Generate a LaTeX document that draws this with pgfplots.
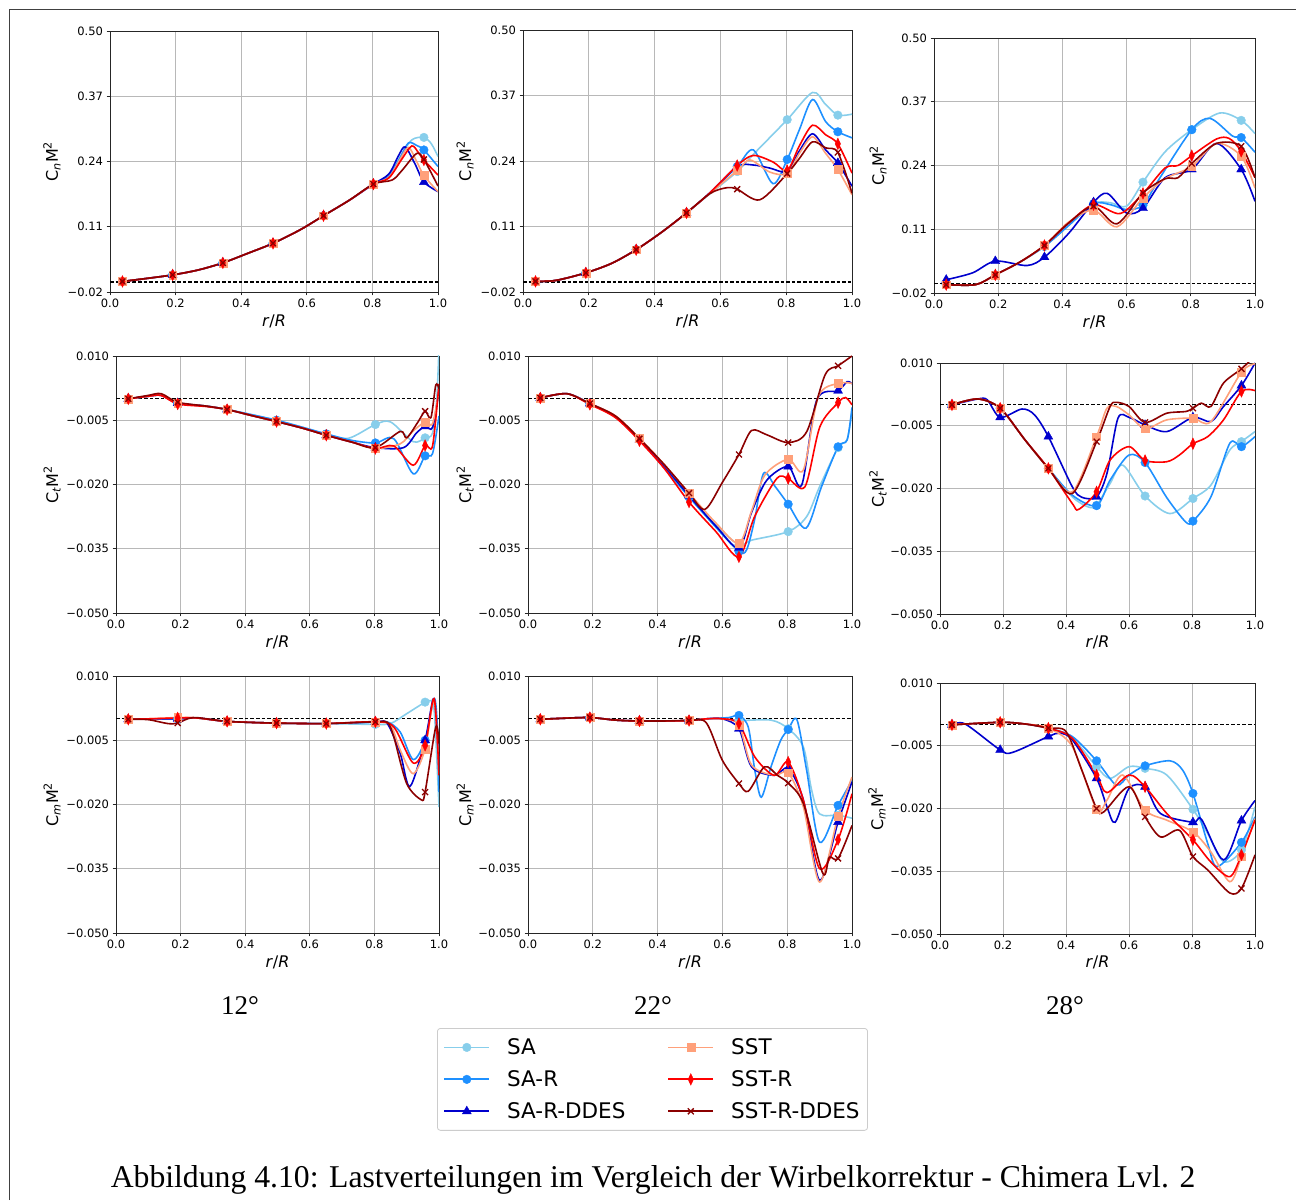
\documentclass[border=0pt]{standalone}
\usepackage{fontspec}
\setmainfont{DejaVu Sans}
\newfontfamily\capfont{Liberation Serif}
\usepackage{pgfplots}
\usepackage{pgfplotstable}
\pgfplotsset{compat=1.18}

\definecolor{cSA}{HTML}{87CEEB}
\definecolor{cSAR}{HTML}{1E90FF}
\definecolor{cSARD}{HTML}{0000CD}
\definecolor{cSST}{HTML}{FFA07A}
\definecolor{cSSTR}{HTML}{FF0000}
\definecolor{cSSTRD}{HTML}{8B0000}

% ---------------------------------------------------------------
% Radial load distributions; column m = 1 marks a measuring station
% ---------------------------------------------------------------
% Cn M^2, 12 deg
\pgfplotstableread{
x y m
0.038 0.001 1
0.10 0.006 0
0.191 0.014 1
0.27 0.024 0
0.344 0.038 1
0.42 0.057 0
0.497 0.077 1
0.58 0.104 0
0.651 0.132 1
0.73 0.163 0
0.803 0.195 1
0.85 0.212 0
0.885 0.250 0
0.92 0.283 0
0.957 0.288 1
0.98 0.275 0
1.0 0.250 0
}\tAsa
\pgfplotstableread{
x y m
0.038 0.001 1
0.10 0.006 0
0.191 0.014 1
0.27 0.024 0
0.344 0.038 1
0.42 0.057 0
0.497 0.077 1
0.58 0.104 0
0.651 0.132 1
0.73 0.163 0
0.803 0.195 1
0.85 0.210 0
0.885 0.248 0
0.91 0.277 0
0.935 0.272 0
0.957 0.263 1
1.0 0.230 0
}\tAsar
\pgfplotstableread{
x y m
0.038 0.001 1
0.10 0.006 0
0.191 0.014 1
0.27 0.024 0
0.344 0.038 1
0.42 0.057 0
0.497 0.077 1
0.58 0.104 0
0.651 0.132 1
0.73 0.163 0
0.803 0.195 1
0.85 0.215 0
0.88 0.252 0
0.90 0.269 0
0.93 0.235 0
0.957 0.199 1
1.0 0.180 0
}\tAsard
\pgfplotstableread{
x y m
0.038 0.001 1
0.10 0.006 0
0.191 0.014 1
0.27 0.024 0
0.344 0.038 1
0.42 0.057 0
0.497 0.077 1
0.58 0.104 0
0.651 0.132 1
0.73 0.163 0
0.803 0.195 1
0.85 0.208 0
0.885 0.245 0
0.91 0.268 0
0.935 0.240 0
0.957 0.212 1
1.0 0.180 0
}\tAsst
\pgfplotstableread{
x y m
0.038 0.001 1
0.10 0.006 0
0.191 0.014 1
0.27 0.024 0
0.344 0.038 1
0.42 0.057 0
0.497 0.077 1
0.58 0.104 0
0.651 0.132 1
0.73 0.163 0
0.803 0.195 1
0.85 0.207 0
0.89 0.245 0
0.92 0.271 0
0.94 0.258 0
0.957 0.243 1
1.0 0.213 0
}\tAsstr
\pgfplotstableread{
x y m
0.038 0.001 1
0.10 0.006 0
0.191 0.014 1
0.27 0.024 0
0.344 0.038 1
0.42 0.057 0
0.497 0.077 1
0.58 0.104 0
0.651 0.132 1
0.73 0.163 0
0.803 0.195 1
0.86 0.203 0
0.89 0.222 0
0.935 0.256 0
0.957 0.244 1
1.0 0.191 0
}\tAsstrd

% Cn M^2, 22 deg
\pgfplotstableread{
x y m
0.038 0.001 1
0.10 0.003 0
0.191 0.018 1
0.27 0.037 0
0.344 0.064 1
0.42 0.098 0
0.497 0.137 1
0.57 0.176 0
0.651 0.219 1
0.70 0.253 0
0.803 0.322 1
0.88 0.376 0
0.92 0.352 0
0.957 0.331 1
1.0 0.333 0
}\tBsa
\pgfplotstableread{
x y m
0.038 0.001 1
0.10 0.003 0
0.191 0.018 1
0.27 0.037 0
0.344 0.064 1
0.42 0.098 0
0.497 0.137 1
0.57 0.178 0
0.651 0.229 1
0.70 0.262 0
0.76 0.195 0
0.803 0.243 1
0.84 0.302 0
0.88 0.362 0
0.92 0.318 0
0.957 0.298 1
1.0 0.286 0
}\tBsar
\pgfplotstableread{
x y m
0.038 0.001 1
0.10 0.003 0
0.191 0.018 1
0.27 0.037 0
0.344 0.064 1
0.42 0.098 0
0.497 0.137 1
0.57 0.178 0
0.651 0.229 1
0.70 0.232 0
0.75 0.226 0
0.803 0.219 1
0.84 0.260 0
0.88 0.294 0
0.92 0.262 0
0.957 0.236 1
1.0 0.190 0
}\tBsard
\pgfplotstableread{
x y m
0.038 0.001 1
0.10 0.003 0
0.191 0.018 1
0.27 0.037 0
0.344 0.064 1
0.42 0.098 0
0.497 0.137 1
0.57 0.177 0
0.651 0.221 1
0.69 0.242 0
0.75 0.218 0
0.803 0.215 1
0.84 0.255 0
0.88 0.288 0
0.92 0.255 0
0.957 0.223 1
1.0 0.173 0
}\tBsst
\pgfplotstableread{
x y m
0.038 0.001 1
0.10 0.003 0
0.191 0.018 1
0.27 0.037 0
0.344 0.064 1
0.42 0.098 0
0.497 0.137 1
0.57 0.178 0
0.651 0.231 1
0.70 0.251 0
0.76 0.238 0
0.803 0.221 1
0.84 0.270 0
0.88 0.311 0
0.92 0.292 0
0.957 0.274 1
1.0 0.216 0
}\tBsstr
\pgfplotstableread{
x y m
0.038 0.001 1
0.10 0.003 0
0.191 0.018 1
0.27 0.037 0
0.344 0.064 1
0.42 0.098 0
0.497 0.137 1
0.57 0.176 0
0.62 0.187 0
0.651 0.184 1
0.72 0.163 0
0.803 0.215 1
0.84 0.245 0
0.88 0.278 0
0.92 0.266 0
0.957 0.257 1
1.0 0.176 0
}\tBsstrd

% Cn M^2, 28 deg
\pgfplotstableread{
x y m
0.038 -0.003 1
0.13 -0.003 0
0.191 0.017 1
0.27 0.044 0
0.344 0.075 1
0.42 0.118 0
0.497 0.162 1
0.55 0.164 0
0.60 0.157 0
0.651 0.206 1
0.72 0.268 0
0.803 0.313 1
0.89 0.347 0
0.957 0.332 1
1.0 0.305 0
}\tCsa
\pgfplotstableread{
x y m
0.038 -0.003 1
0.13 -0.003 0
0.191 0.017 1
0.27 0.044 0
0.344 0.075 1
0.42 0.118 0
0.497 0.162 1
0.55 0.160 0
0.60 0.150 0
0.651 0.159 1
0.70 0.211 0
0.803 0.313 1
0.86 0.336 0
0.93 0.300 0
0.957 0.297 1
1.0 0.267 0
}\tCsar
\pgfplotstableread{
x y m
0.038 0.007 1
0.12 0.021 0
0.191 0.045 1
0.29 0.036 0
0.344 0.053 1
0.42 0.102 0
0.497 0.165 1
0.54 0.183 0
0.60 0.143 0
0.651 0.153 1
0.72 0.215 0
0.803 0.232 1
0.88 0.285 0
0.957 0.232 1
1.0 0.167 0
}\tCsard
\pgfplotstableread{
x y m
0.038 -0.003 1
0.13 -0.003 0
0.191 0.017 1
0.27 0.044 0
0.344 0.077 1
0.42 0.125 0
0.497 0.149 1
0.57 0.115 0
0.651 0.174 1
0.72 0.213 0
0.803 0.238 1
0.88 0.285 0
0.957 0.259 1
1.0 0.194 0
}\tCsst
\pgfplotstableread{
x y m
0.038 -0.003 1
0.13 -0.003 0
0.191 0.017 1
0.27 0.044 0
0.344 0.077 1
0.42 0.123 0
0.497 0.160 1
0.58 0.142 0
0.651 0.183 1
0.72 0.235 0
0.76 0.240 0
0.803 0.260 1
0.88 0.294 0
0.92 0.295 0
0.957 0.269 1
1.0 0.215 0
}\tCsstr
\pgfplotstableread{
x y m
0.038 -0.003 1
0.13 -0.003 0
0.191 0.017 1
0.27 0.044 0
0.344 0.077 1
0.42 0.123 0
0.497 0.157 1
0.57 0.121 0
0.651 0.184 1
0.72 0.213 0
0.76 0.215 0
0.803 0.244 1
0.88 0.285 0
0.957 0.279 1
1.0 0.215 0
}\tCsstrd

% Ct M^2, 12 deg
\pgfplotstableread{
x y m
0.038 0.0000 1
0.10 0.0006 0
0.14 0.0008 0
0.191 -0.0010 1
0.28 -0.0017 0
0.344 -0.0025 1
0.42 -0.0037 0
0.497 -0.0050 1
0.58 -0.0067 0
0.651 -0.0082 1
0.72 -0.0092 0
0.803 -0.0060 1
0.85 -0.0054 0
0.92 -0.0100 0
0.957 -0.0091 1
0.98 -0.0080 0
0.993 0.0000 0
1.0 0.0120 0
}\tDsa
\pgfplotstableread{
x y m
0.038 0.0000 1
0.10 0.0006 0
0.14 0.0008 0
0.191 -0.0010 1
0.28 -0.0017 0
0.344 -0.0025 1
0.42 -0.0037 0
0.497 -0.0050 1
0.58 -0.0067 0
0.651 -0.0082 1
0.73 -0.0097 0
0.803 -0.0103 1
0.86 -0.0093 0
0.92 -0.0175 0
0.957 -0.0133 1
0.98 -0.0128 0
1.0 -0.0040 0
}\tDsar
\pgfplotstableread{
x y m
0.038 0.0000 1
0.10 0.0006 0
0.14 0.0008 0
0.191 -0.0010 1
0.28 -0.0017 0
0.344 -0.0025 1
0.42 -0.0039 0
0.497 -0.0053 1
0.58 -0.0069 0
0.651 -0.0085 1
0.73 -0.0101 0
0.803 -0.0114 1
0.89 -0.0114 0
0.93 -0.0080 0
0.957 -0.0064 1
0.98 -0.0067 0
1.0 0.0020 0
}\tDsard
\pgfplotstableread{
x y m
0.038 0.0000 1
0.10 0.0006 0
0.14 0.0008 0
0.191 -0.0010 1
0.28 -0.0017 0
0.344 -0.0025 1
0.42 -0.0039 0
0.497 -0.0053 1
0.58 -0.0069 0
0.651 -0.0085 1
0.73 -0.0101 0
0.803 -0.0116 1
0.88 -0.0105 0
0.92 -0.0075 0
0.957 -0.0054 1
0.98 -0.0058 0
1.0 0.0020 0
}\tDsst
\pgfplotstableread{
x y m
0.038 0.0000 1
0.10 0.0006 0
0.14 0.0008 0
0.191 -0.0012 1
0.28 -0.0018 0
0.344 -0.0025 1
0.42 -0.0039 0
0.497 -0.0053 1
0.58 -0.0069 0
0.651 -0.0085 1
0.73 -0.0101 0
0.803 -0.0116 1
0.86 -0.0110 0
0.92 -0.0155 0
0.957 -0.0109 1
0.98 -0.0110 0
1.0 0.0035 0
}\tDsstr
\pgfplotstableread{
x y m
0.038 0.0000 1
0.10 0.0008 0
0.14 0.0012 0
0.191 -0.0008 1
0.28 -0.0017 0
0.344 -0.0025 1
0.42 -0.0039 0
0.497 -0.0053 1
0.58 -0.0069 0
0.651 -0.0085 1
0.73 -0.0101 0
0.803 -0.0114 1
0.88 -0.0076 0
0.90 -0.0091 0
0.935 -0.0054 0
0.957 -0.0029 1
0.975 -0.0044 0
0.99 0.0032 0
1.0 0.0024 0
}\tDsstrd

% Ct M^2, 22 deg
\pgfplotstableread{
x y m
0.038 0.0002 1
0.12 0.0012 0
0.191 -0.0011 1
0.27 -0.0042 0
0.344 -0.0095 1
0.42 -0.0160 0
0.497 -0.0229 1
0.58 -0.0295 0
0.651 -0.0341 1
0.69 -0.0330 0
0.803 -0.0310 1
0.86 -0.0275 0
0.90 -0.0205 0
0.957 -0.0114 1
0.985 -0.0095 0
1.0 -0.0028 0
}\tEsa
\pgfplotstableread{
x y m
0.038 0.0002 1
0.12 0.0012 0
0.191 -0.0011 1
0.27 -0.0042 0
0.344 -0.0095 1
0.42 -0.0160 0
0.497 -0.0229 1
0.58 -0.0300 0
0.651 -0.0356 1
0.675 -0.0352 0
0.70 -0.0280 0
0.727 -0.0174 0
0.763 -0.0205 0
0.803 -0.0246 1
0.858 -0.0302 0
0.906 -0.0205 0
0.957 -0.0112 1
0.985 -0.0096 0
1.0 -0.0020 0
}\tEsar
\pgfplotstableread{
x y m
0.038 0.0002 1
0.12 0.0012 0
0.191 -0.0011 1
0.27 -0.0042 0
0.344 -0.0095 1
0.42 -0.0157 0
0.497 -0.0226 1
0.58 -0.0297 0
0.651 -0.0348 1
0.69 -0.0265 0
0.737 -0.0190 0
0.803 -0.0158 1
0.845 -0.0201 0
0.891 -0.0003 0
0.957 0.0019 1
0.985 0.0040 0
1.0 0.0035 0
}\tEsard
\pgfplotstableread{
x y m
0.038 0.0002 1
0.12 0.0012 0
0.191 -0.0011 1
0.27 -0.0040 0
0.344 -0.0092 1
0.42 -0.0153 0
0.497 -0.0220 1
0.58 -0.0290 0
0.651 -0.0337 1
0.69 -0.0262 0
0.731 -0.0178 0
0.803 -0.0141 1
0.85 -0.0166 0
0.896 0.0005 0
0.957 0.0036 1
1.0 0.0036 0
}\tEsst
\pgfplotstableread{
x y m
0.038 0.0002 1
0.12 0.0012 0
0.191 -0.0013 1
0.27 -0.0044 0
0.344 -0.0098 1
0.42 -0.0162 0
0.497 -0.0241 1
0.58 -0.0310 0
0.651 -0.0369 1
0.70 -0.0274 0
0.768 -0.0186 0
0.803 -0.0186 1
0.855 -0.0205 0
0.901 -0.0065 0
0.957 -0.0009 1
0.98 0.0003 0
1.0 -0.0014 0
}\tEsstr
\pgfplotstableread{
x y m
0.038 0.0002 1
0.12 0.0012 0
0.191 -0.0011 1
0.27 -0.0040 0
0.344 -0.0093 1
0.42 -0.0153 0
0.497 -0.0220 1
0.546 -0.0258 0
0.60 -0.0195 0
0.651 -0.0130 1
0.69 -0.0074 0
0.737 -0.0084 0
0.803 -0.0102 1
0.86 -0.0077 0
0.917 0.0056 0
0.957 0.0077 1
1.0 0.0100 0
}\tEsstrd

% Ct M^2, 28 deg
\pgfplotstableread{
x y m
0.038 0.0000 1
0.12 0.0014 0
0.191 -0.0008 1
0.27 -0.0084 0
0.344 -0.0152 1
0.42 -0.0220 0
0.47 -0.0244 0
0.497 -0.0240 1
0.54 -0.0188 0
0.58 -0.0144 0
0.651 -0.0218 1
0.73 -0.0260 0
0.803 -0.0224 1
0.86 -0.0192 0
0.92 -0.0108 0
0.957 -0.0088 1
1.0 -0.0064 0
}\tFsa
\pgfplotstableread{
x y m
0.038 0.0000 1
0.12 0.0014 0
0.191 -0.0008 1
0.27 -0.0084 0
0.344 -0.0152 1
0.42 -0.0216 0
0.497 -0.0241 1
0.54 -0.0180 0
0.60 -0.0120 0
0.651 -0.0138 1
0.72 -0.0222 0
0.78 -0.0280 0
0.803 -0.0278 1
0.86 -0.0220 0
0.92 -0.0092 0
0.957 -0.0100 1
1.0 -0.0076 0
}\tFsar
\pgfplotstableread{
x y m
0.038 0.0000 1
0.12 0.0014 0
0.15 0.0012 0
0.191 -0.0030 1
0.26 -0.0010 0
0.30 -0.0024 0
0.344 -0.0076 1
0.42 -0.0196 0
0.45 -0.0221 0
0.497 -0.0220 1
0.53 -0.0164 0
0.565 -0.0032 0
0.60 -0.0030 0
0.651 -0.0048 1
0.72 -0.0064 0
0.803 -0.0030 1
0.86 -0.0040 0
0.90 -0.0004 0
0.957 0.0046 1
1.0 0.0100 0
}\tFsard
\pgfplotstableread{
x y m
0.038 0.0000 1
0.12 0.0014 0
0.191 -0.0008 1
0.27 -0.0084 0
0.344 -0.0152 1
0.42 -0.0208 0
0.497 -0.0076 1
0.53 -0.0008 0
0.56 -0.0004 0
0.60 -0.0024 0
0.651 -0.0057 1
0.72 -0.0036 0
0.803 -0.0032 1
0.86 -0.0040 0
0.957 0.0078 1
1.0 0.0098 0
}\tFsst
\pgfplotstableread{
x y m
0.038 0.0000 1
0.12 0.0014 0
0.191 -0.0008 1
0.27 -0.0084 0
0.344 -0.0152 1
0.42 -0.0236 0
0.44 -0.0250 0
0.497 -0.0208 1
0.54 -0.0132 0
0.60 -0.0100 0
0.651 -0.0133 1
0.72 -0.0136 0
0.76 -0.0120 0
0.803 -0.0093 1
0.85 -0.0076 0
0.90 -0.0036 0
0.957 0.0032 1
1.0 0.0034 0
}\tFsstr
\pgfplotstableread{
x y m
0.038 0.0000 1
0.12 0.0014 0
0.191 -0.0008 1
0.27 -0.0084 0
0.344 -0.0152 1
0.42 -0.0212 0
0.497 -0.0088 1
0.54 -0.0004 0
0.56 0.0006 0
0.60 -0.0004 0
0.651 -0.0042 1
0.72 -0.0020 0
0.78 -0.0016 0
0.803 -0.0008 1
0.83 0.0004 0
0.86 -0.0004 0
0.90 0.0052 0
0.957 0.0086 1
0.99 0.0110 0
}\tFsstrd

% Cm M^2, 12 deg
\pgfplotstableread{
x y m
0.038 -0.0001 1
0.10 0.0000 0
0.191 0.0000 1
0.25 0.0002 0
0.344 -0.0006 1
0.497 -0.0010 1
0.651 -0.0011 1
0.803 -0.0013 1
0.85 -0.0011 0
0.90 0.0012 0
0.957 0.0039 1
0.97 0.0042 0
0.985 0.0020 0
1.0 -0.0206 0
}\tGsa
\pgfplotstableread{
x y m
0.038 -0.0001 1
0.10 0.0000 0
0.191 0.0000 1
0.25 0.0002 0
0.344 -0.0006 1
0.497 -0.0010 1
0.651 -0.0011 1
0.803 -0.0008 1
0.84 -0.0007 0
0.88 -0.0031 0
0.92 -0.0095 0
0.957 -0.0050 1
0.985 0.0047 0
0.995 -0.0020 0
1.0 -0.0171 0
}\tGsar
\pgfplotstableread{
x y m
0.038 -0.0001 1
0.10 0.0000 0
0.191 0.0000 1
0.25 0.0002 0
0.344 -0.0006 1
0.497 -0.0010 1
0.651 -0.0011 1
0.803 -0.0007 1
0.84 -0.0011 0
0.88 -0.0081 0
0.91 -0.0158 0
0.957 -0.0050 1
0.985 0.0047 0
1.0 -0.0120 0
}\tGsard
\pgfplotstableread{
x y m
0.038 -0.0001 1
0.10 0.0000 0
0.191 0.0003 1
0.25 0.0002 0
0.344 -0.0006 1
0.497 -0.0010 1
0.651 -0.0011 1
0.803 -0.0007 1
0.85 -0.0015 0
0.88 -0.0073 0
0.92 -0.0128 0
0.957 -0.0070 1
0.985 0.0043 0
1.0 -0.0128 0
}\tGsst
\pgfplotstableread{
x y m
0.038 -0.0001 1
0.10 0.0000 0
0.191 0.0002 1
0.25 0.0002 0
0.344 -0.0006 1
0.497 -0.0010 1
0.651 -0.0011 1
0.803 -0.0007 1
0.86 -0.0019 0
0.92 -0.0103 0
0.957 -0.0062 1
0.985 0.0047 0
1.0 -0.0132 0
}\tGsstr
\pgfplotstableread{
x y m
0.038 -0.0001 1
0.10 -0.0002 0
0.16 -0.0011 0
0.191 -0.0010 1
0.24 0.0003 0
0.344 -0.0006 1
0.497 -0.0010 1
0.651 -0.0011 1
0.803 -0.0007 1
0.84 -0.0008 0
0.86 -0.0042 0
0.90 -0.0151 0
0.945 -0.0189 0
0.957 -0.0171 1
0.99 -0.0019 0
1.0 -0.0058 0
}\tGsstrd

% Cm M^2, 22 deg
\pgfplotstableread{
x y m
0.038 -0.0001 1
0.10 0.0001 0
0.191 0.0003 1
0.27 -0.0003 0
0.344 -0.0005 1
0.42 -0.0005 0
0.497 -0.0004 1
0.55 0.0000 0
0.60 0.0000 0
0.651 -0.0004 1
0.75 -0.0003 0
0.803 -0.0023 1
0.85 -0.0066 0
0.875 -0.0165 0
0.90 -0.0222 0
0.957 -0.0225 1
1.0 -0.0232 0
}\tHsa
\pgfplotstableread{
x y m
0.038 -0.0001 1
0.10 0.0001 0
0.191 0.0003 1
0.27 -0.0003 0
0.344 -0.0005 1
0.42 -0.0005 0
0.497 -0.0004 1
0.55 0.0000 0
0.62 0.0003 0
0.651 0.0008 1
0.68 -0.0020 0
0.70 -0.0120 0
0.72 -0.0183 0
0.75 -0.0112 0
0.78 -0.0050 0
0.803 -0.0025 1
0.83 -0.0002 0
0.86 -0.0120 0
0.90 -0.0288 0
0.957 -0.0202 1
1.0 -0.0144 0
}\tHsar
\pgfplotstableread{
x y m
0.038 -0.0001 1
0.10 0.0001 0
0.191 0.0003 1
0.27 -0.0003 0
0.344 -0.0005 1
0.42 -0.0005 0
0.497 -0.0004 1
0.55 0.0000 0
0.60 0.0000 0
0.651 -0.0023 1
0.69 -0.0112 0
0.76 -0.0132 0
0.803 -0.0116 1
0.85 -0.0190 0
0.90 -0.0377 0
0.957 -0.0241 1
1.0 -0.0147 0
}\tHsard
\pgfplotstableread{
x y m
0.038 -0.0001 1
0.10 0.0001 0
0.191 0.0003 1
0.27 -0.0003 0
0.344 -0.0005 1
0.42 -0.0005 0
0.497 -0.0004 1
0.55 0.0000 0
0.60 0.0000 0
0.651 -0.0015 1
0.69 -0.0108 0
0.76 -0.0132 0
0.803 -0.0126 1
0.85 -0.0206 0
0.90 -0.0381 0
0.957 -0.0228 1
1.0 -0.0136 0
}\tHsst
\pgfplotstableread{
x y m
0.038 -0.0001 1
0.10 0.0001 0
0.191 0.0003 1
0.27 -0.0003 0
0.344 -0.0005 1
0.42 -0.0005 0
0.497 -0.0004 1
0.55 0.0000 0
0.60 0.0000 0
0.651 -0.0011 1
0.70 -0.0089 0
0.76 -0.0132 0
0.803 -0.0101 1
0.85 -0.0190 0
0.90 -0.0350 0
0.957 -0.0282 1
1.0 -0.0175 0
}\tHsstr
\pgfplotstableread{
x y m
0.038 -0.0001 1
0.10 0.0001 0
0.191 0.0003 1
0.27 -0.0003 0
0.344 -0.0005 1
0.42 -0.0005 0
0.497 -0.0004 1
0.55 -0.0009 0
0.60 -0.0097 0
0.651 -0.0151 1
0.68 -0.0169 0
0.73 -0.0112 0
0.77 -0.0132 0
0.803 -0.0150 1
0.85 -0.0198 0
0.91 -0.0361 0
0.93 -0.0323 0
0.957 -0.0326 1
1.0 -0.0249 0
}\tHsstrd

% Cm M^2, 28 deg
\pgfplotstableread{
x y m
0.038 0.0000 1
0.191 0.0006 1
0.27 0.0002 0
0.344 -0.0008 1
0.42 -0.0032 0
0.497 -0.0100 1
0.54 -0.0128 0
0.60 -0.0100 0
0.651 -0.0104 1
0.72 -0.0120 0
0.803 -0.0202 1
0.85 -0.0260 0
0.90 -0.0327 0
0.957 -0.0299 1
1.0 -0.0196 0
}\tIsa
\pgfplotstableread{
x y m
0.038 0.0000 1
0.191 0.0006 1
0.27 0.0002 0
0.344 -0.0008 1
0.42 -0.0028 0
0.497 -0.0086 1
0.56 -0.0144 0
0.60 -0.0120 0
0.651 -0.0098 1
0.73 -0.0086 0
0.77 -0.0108 0
0.803 -0.0164 1
0.85 -0.0284 0
0.88 -0.0339 0
0.957 -0.0281 1
1.0 -0.0220 0
}\tIsar
\pgfplotstableread{
x y m
0.038 0.0000 1
0.08 0.0002 0
0.191 -0.0060 1
0.23 -0.0066 0
0.344 -0.0028 1
0.38 -0.0020 0
0.42 -0.0036 0
0.497 -0.0128 1
0.53 -0.0196 0
0.556 -0.0233 0
0.60 -0.0152 0
0.651 -0.0148 1
0.70 -0.0212 0
0.803 -0.0233 1
0.83 -0.0226 0
0.90 -0.0323 0
0.957 -0.0229 1
1.0 -0.0181 0
}\tIsard
\pgfplotstableread{
x y m
0.038 0.0000 1
0.191 0.0006 1
0.27 0.0002 0
0.344 -0.0008 1
0.42 -0.0052 0
0.497 -0.0202 1
0.53 -0.0180 0
0.58 -0.0120 0
0.651 -0.0204 1
0.72 -0.0228 0
0.803 -0.0256 1
0.86 -0.0304 0
0.92 -0.0375 0
0.957 -0.0315 1
1.0 -0.0224 0
}\tIsst
\pgfplotstableread{
x y m
0.038 0.0000 1
0.191 0.0006 1
0.27 0.0002 0
0.344 -0.0008 1
0.42 -0.0032 0
0.497 -0.0120 1
0.53 -0.0162 0
0.60 -0.0120 0
0.651 -0.0148 1
0.72 -0.0212 0
0.803 -0.0275 1
0.86 -0.0328 0
0.92 -0.0363 0
0.957 -0.0311 1
1.0 -0.0228 0
}\tIsstr
\pgfplotstableread{
x y m
0.038 0.0000 1
0.191 0.0006 1
0.27 0.0002 0
0.344 -0.0008 1
0.40 -0.0016 0
0.45 -0.0108 0
0.497 -0.0200 1
0.52 -0.0208 0
0.60 -0.0148 0
0.651 -0.0220 1
0.70 -0.0268 0
0.76 -0.0252 0
0.803 -0.0315 1
0.85 -0.0347 0
0.92 -0.0402 0
0.957 -0.0391 1
1.0 -0.0311 0
}\tIsstrd

% ---------------------------------------------------------------
\pgfplotsset{
  sa/.style={color=cSA, mark=*, mark size=4.3pt, mark options={solid, line width=0.4pt}},
  sar/.style={color=cSAR, mark=*, mark size=4.3pt, mark options={solid, line width=0.4pt}},
  sard/.style={color=cSARD, mark=triangle*, mark size=5.2pt, mark options={solid, line width=0.4pt}},
  sst/.style={color=cSST, mark=square*, mark size=3.9pt, mark options={solid, line width=0.4pt}},
  sstr/.style={color=cSSTR, mark=diamond*, mark size=5.8pt, mark options={solid, xscale=0.62, line width=0.4pt}},
  sstrd/.style={color=cSSTRD, mark=x, mark size=4.2pt, mark options={solid, line width=1.3pt}},
  panel/.style={
    scale only axis, anchor=north west,
    xmin=0, xmax=1,
    scaled y ticks=false, scaled x ticks=false,
    axis line style={black!85, line width=0.9pt},
    grid=major,
    major grid style={black!28, line width=0.8pt},
    tick align=outside,
    major tick length=3.5pt,
    tick style={black!85, line width=0.8pt},
    xtick pos=left, ytick pos=left,
    xtick={0,0.2,0.4,0.6,0.8,1},
    xticklabels={0.0,0.2,0.4,0.6,0.8,1.0},
    ticklabel style={font=\fontsize{11.5}{13}\selectfont},
    label style={font=\fontsize{16}{18}\selectfont},
    xlabel={\textit{r}/\textit{R}},
    xlabel style={at={(axis description cs:0.5,-0.114)}, anchor=center},
  },
  ylab/.style={ylabel style={at={(axis description cs:#1,0.5)}, anchor=center}},
  cnrow/.style={ymin=-0.02, ymax=0.5,
    ytick={-0.02,0.11,0.24,0.37,0.5},
    yticklabels={−0.02,0.11,0.24,0.37,0.50},
    ylabel={C\textsubscript{\textit{n}}M\textsuperscript{2}}},
  ctrow/.style={ymin=-0.05, ymax=0.01,
    ytick={-0.05,-0.035,-0.02,-0.005,0.01},
    yticklabels={−0.050,−0.035,−0.020,−0.005,0.010},
    ylabel={C\textsubscript{\textit{t}}M\textsuperscript{2}}},
  cmrow/.style={ctrow,
    ylabel={C\textsubscript{\textit{m}}M\textsuperscript{2}}},
}

% one simulation: smooth line plus markers at the stations
\newcommand\seriesT[2]{%
  \addplot[#2, line width=1.6pt, smooth, no markers] table[x=x, y=y] {#1};
  \addplot[#2, only marks, restrict expr to domain={\thisrow{m}}{0.5:1.5}] table[x=x, y=y] {#1};
}
\newcommand\series[2]{\expandafter\seriesT\csname t#2\endcsname{#1}}
\newcommand\zeroline{%
  \addplot[black, line width=1.2pt, dash pattern=on 3.6pt off 2pt] coordinates {(0,0) (1,0)};
}
\newcommand\allseries[1]{%
  \series{sa}{#1sa}
  \series{sar}{#1sar}
  \series{sard}{#1sard}
  \series{sst}{#1sst}
  \series{sstr}{#1sstr}
  \series{sstrd}{#1sstrd}
}

\begin{document}
\begin{tikzpicture}
\useasboundingbox (0,0) rectangle (1296pt,1200pt);
\draw[black!75, line width=1pt] (9.5pt,0pt) -- (9.5pt,1190.5pt) -- (1296pt,1190.5pt);

% row 1: Cn
\begin{axis}[panel, cnrow, ylab=-0.177, at={(110pt,1169pt)}, width=328pt, height=261pt]
\zeroline \allseries{A}
\end{axis}
\begin{axis}[panel, cnrow, ylab=-0.176, at={(523pt,1170pt)}, width=329pt, height=262pt]
\zeroline \allseries{B}
\end{axis}
\begin{axis}[panel, cnrow, ylab=-0.174, at={(934pt,1162pt)}, width=321pt, height=255pt]
\zeroline \allseries{C}
\end{axis}

% row 2: Ct
\begin{axis}[panel, ctrow, ylab=-0.198, at={(116pt,844pt)}, width=323pt, height=257pt]
\zeroline \allseries{D}
\end{axis}
\begin{axis}[panel, ctrow, ylab=-0.194, at={(528pt,844pt)}, width=324pt, height=257pt]
\zeroline \allseries{E}
\end{axis}
\begin{axis}[panel, ctrow, ylab=-0.197, at={(940pt,837pt)}, width=315pt, height=251pt]
\zeroline \allseries{F}
\end{axis}

% row 3: Cm
\begin{axis}[panel, cmrow, ylab=-0.198, at={(116pt,524pt)}, width=323pt, height=257pt]
\zeroline \allseries{G}
\end{axis}
\begin{axis}[panel, cmrow, ylab=-0.194, at={(528pt,524pt)}, width=324pt, height=257pt]
\zeroline \allseries{H}
\end{axis}
\begin{axis}[panel, cmrow, ylab=-0.2, at={(940pt,517pt)}, width=315pt, height=251pt]
\zeroline \allseries{I}
\end{axis}

% column titles
\node[anchor=base, font=\capfont\fontsize{27}{30}\selectfont] at (240pt,185pt) {12°};
\node[anchor=base, font=\capfont\fontsize{27}{30}\selectfont] at (653pt,185pt) {22°};
\node[anchor=base, font=\capfont\fontsize{27}{30}\selectfont] at (1065pt,185pt) {28°};

% shared legend
\begin{axis}[at={(437pt,172pt)}, anchor=north west, scale only axis,
  width=432pt, height=102pt, hide axis,
  xmin=0, xmax=1, ymin=0, ymax=1,
  legend columns=2,
  legend cell align=left,
  legend image code/.code={%
    \draw[#1, line width=1.8pt] (0pt,0pt) -- (45pt,0pt);
    \draw[#1] plot[only marks] coordinates {(22.5pt,0pt)};},
  legend style={at={(0,1)}, anchor=north west,
    draw=black!20, line width=0.8pt, rounded corners=3pt,
    font=\fontsize{21.5}{24}\selectfont,
    inner xsep=6pt, inner ysep=8.3pt, row sep=10.5pt,
    /tikz/every odd column/.append style={column sep=15pt},
    /tikz/every even column/.append style={column sep=40pt}},
]
\addlegendimage{sa}\addlegendentry{SA}
\addlegendimage{sst}\addlegendentry{SST}
\addlegendimage{sar}\addlegendentry{SA-R}
\addlegendimage{sstr}\addlegendentry{SST-R}
\addlegendimage{sard}\addlegendentry{SA-R-DDES}
\addlegendimage{sstrd}\addlegendentry{SST-R-DDES}
\end{axis}

% caption
\node[anchor=base, font=\capfont\fontsize{31.7}{36}\selectfont] at (653pt,13pt)
  {Abbildung 4.10: Lastverteilungen im Vergleich der Wirbelkorrektur - Chimera Lvl. 2};
\end{tikzpicture}
\end{document}
